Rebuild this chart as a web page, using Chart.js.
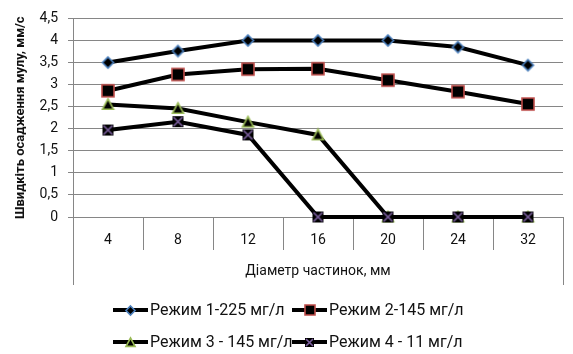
<!DOCTYPE html>
<html lang="uk">
<head>
<meta charset="UTF-8">
<title>Швидкість осадження мулу</title>
<script src="https://cdn.jsdelivr.net/npm/chart.js"></script>
<style>
  body { margin: 0; background: #fff; }
</style>
</head>
<body>
<canvas id="grafik" width="573" height="354"></canvas>

<script>
  // дані з графіка
  const diametry = ['4', '8', '12', '16', '20', '24', '32']
  const rezhym1 = [3.5, 3.76, 4.0, 4.0, 4.0, 3.85, 3.44]
  const rezhym2 = [2.86, 3.23, 3.35, 3.36, 3.1, 2.84, 2.56]
  const rezhym3 = [2.55, 2.46, 2.15, 1.86, 0, 0, 0]
  const rezhym4 = [1.97, 2.16, 1.86, 0, 0, 0, 0]
  const nazvy = ['Режим 1-225 мг/л', 'Режим 2-145 мг/л', 'Режим 3 - 145 мг/л', 'Режим 4 - 11 мг/л']

  const SIRYI = '#868686'
  const SHRYFT = 'Roboto, "Liberation Sans", sans-serif'

  // маркери як у Excel: чорна заливка, кольоровий контур
  const marker = (vyd, rozmir) => {
    const c = document.createElement('canvas')
    const s = rozmir + 4
    c.width = s; c.height = s
    const g = c.getContext('2d')
    const m = s / 2, h = rozmir / 2
    g.lineWidth = 1.6
    g.fillStyle = '#000'
    g.beginPath()
    if (vyd === 'romb') {
      g.moveTo(m, m - h); g.lineTo(m + h, m); g.lineTo(m, m + h); g.lineTo(m - h, m); g.closePath()
      g.fill(); g.strokeStyle = '#4A7EBB'; g.stroke()
    } else if (vyd === 'kvadrat') {
      g.rect(m - h, m - h, rozmir, rozmir)
      g.fill(); g.strokeStyle = '#BE4B48'; g.stroke()
    } else if (vyd === 'trykutnyk') {
      g.moveTo(m, m - h); g.lineTo(m + h, m + h * 0.85); g.lineTo(m - h, m + h * 0.85); g.closePath()
      g.fill(); g.strokeStyle = '#98B954'; g.stroke()
    } else {
      g.fillRect(m - h, m - h, rozmir, rozmir)
      g.strokeStyle = '#7D60A0'
      g.moveTo(m - h + 1, m - h + 1); g.lineTo(m + h - 1, m + h - 1)
      g.moveTo(m + h - 1, m - h + 1); g.lineTo(m - h + 1, m + h - 1)
      g.stroke()
    }
    return c
  }

  const vydy = ['romb', 'kvadrat', 'trykutnyk', 'khrest']
  const rozmiry = [11, 12, 11, 11]
  const markeryLegendy = vydy.map((v, i) => marker(v, rozmiry[i] - 2))

  // лінії під віссю X по краях
  const ramka = {
    id: 'ramka',
    beforeDatasetsDraw(chart) {
      const {ctx, chartArea} = chart
      ctx.save()
      ctx.strokeStyle = SIRYI
      ctx.lineWidth = 1
      ctx.beginPath()
      for (const x of [chartArea.left, chartArea.right]) {
        const px = Math.round(x) + 0.5
        ctx.moveTo(px, chartArea.bottom)
        ctx.lineTo(px, chartArea.bottom + 68)
      }
      ctx.stroke()
      ctx.restore()
    }
  }

  // легенда у дві колонки
  const legenda = {
    id: 'legenda',
    afterDraw(chart) {
      const ctx = chart.ctx
      const kolonky = [113, 292]
      const riadky = [310, 342]
      ctx.save()
      ctx.font = '16px ' + SHRYFT
      ctx.textBaseline = 'middle'
      ctx.fillStyle = '#111'
      chart.data.datasets.forEach((ds, i) => {
        const x = kolonky[i % 2], y = riadky[Math.floor(i / 2)]
        ctx.strokeStyle = '#000'
        ctx.lineWidth = 4
        ctx.beginPath()
        ctx.moveTo(x, y); ctx.lineTo(x + 35, y)
        ctx.stroke()
        const img = markeryLegendy[i]
        ctx.drawImage(img, Math.round(x + 17.5 - img.width / 2), Math.round(y - img.height / 2))
        ctx.fillText(ds.label, x + 37, y + 1)
      })
      ctx.restore()
    }
  }

  const seriyi = [rezhym1, rezhym2, rezhym3, rezhym4]
  const ctx = document.getElementById('grafik')

  const grafik = new Chart(ctx, {
    type: 'line',
    data: {
      labels: diametry,
      datasets: seriyi.map((dani, i) => ({
        label: nazvy[i],
        data: dani,
        borderColor: '#000',
        borderWidth: 4,
        tension: 0,
        pointStyle: marker(vydy[i], rozmiry[i]),
        pointRadius: 6,
        clip: false,
        order: 3 - i
      }))
    },
    options: {
      responsive: false,
      animation: false,
      devicePixelRatio: 1,
      layout: { padding: { top: 18, right: 5, bottom: 69, left: 0 } },
      font: { family: SHRYFT },
      plugins: {
        legend: { display: false },
        tooltip: { enabled: false }
      },
      scales: {
        x: {
          offset: true,
          afterFit: s => { s.height = 68 },
          grid: { color: SIRYI, drawOnChartArea: false, tickLength: 33, offset: true },
          border: { color: SIRYI },
          ticks: { color: '#111', padding: -18, font: { size: 14, family: SHRYFT } },
          title: {
            display: true, text: 'Діаметр частинок, мм', color: '#111',
            font: { size: 14, family: SHRYFT }, padding: { top: 0, bottom: 5 }
          }
        },
        y: {
          min: 0, max: 4.5,
          afterFit: s => { s.width = 73 },
          grid: { color: SIRYI, tickLength: 5 },
          border: { color: SIRYI },
          ticks: {
            stepSize: 0.5, color: '#111', padding: 10,
            font: { size: 14, family: SHRYFT },
            callback: v => String(v).replace('.', ',')
          },
          title: {
            display: true, text: 'Швидкіть осадження мулу, мм/с', color: '#111',
            font: { size: 13, weight: 'bold', family: SHRYFT }, padding: { top: 13, bottom: 0 }
          }
        }
      }
    },
    plugins: [ramka, legenda]
  })
</script>
</body>
</html>
